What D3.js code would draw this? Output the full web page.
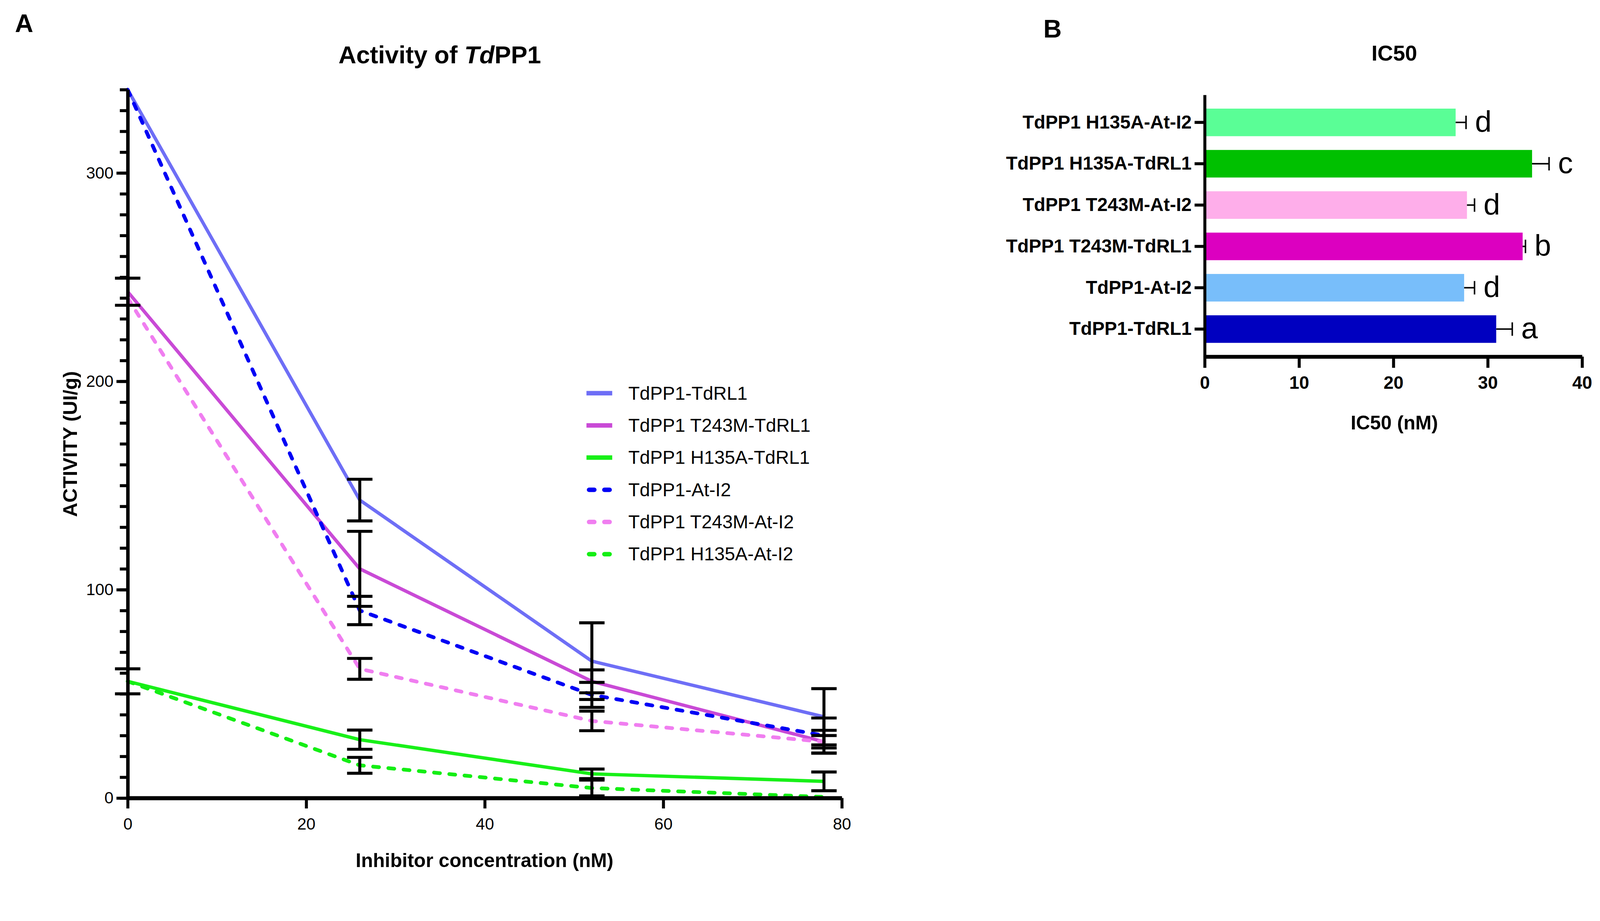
<!DOCTYPE html>
<html lang="en">
<head>
  <meta charset="UTF-8">
  <title>Activity of TdPP1 and IC50</title>
  <script src="https://d3js.org/d3.v7.min.js"></script>
  <style>
    html, body {
      margin: 0;
      padding: 0;
      width: 100%;
      height: 100%;
      overflow: hidden;
      background: #ffffff;
    }
    svg {
      display: block;
      width: 100vw;
      height: 100vh;
      background: #ffffff;
      font-family: "Liberation Sans", Arial, sans-serif;
    }
  </style>
</head>
<body>
  <svg id="chart" viewBox="0 0 4286 2357" preserveAspectRatio="xMidYMin meet"></svg>
  <script>
    // ---- Panel A data: activity (UI/g) vs inhibitor concentration (nM)
    const concentrations = [0, 26, 52, 78];

    const seriesNames = [
      "TdPP1-TdRL1",
      "TdPP1 T243M-TdRL1",
      "TdPP1 H135A-TdRL1",
      "TdPP1-At-I2",
      "TdPP1 T243M-At-I2",
      "TdPP1 H135A-At-I2"
    ];

    const wtTdRL1       = [340, 143, 65.7, 39];
    const wtTdRL1Err    = [0, 10, 18.4, 13.5];
    const t243mTdRL1    = [243, 110, 56, 27];
    const t243mTdRL1Err = [6.5, 18, 5.5, 3];
    const h135aTdRL1    = [56, 28, 11.6, 8];
    const h135aTdRL1Err = [6, 4.6, 2.3, 4.5];
    const wtAtI2        = [340, 90, 49.5, 30];
    const wtAtI2Err     = [0, 6.8, 6, 8.4];
    const t243mAtI2     = [240, 62, 37, 27];
    const t243mAtI2Err  = [0, 5, 4.7, 5.5];
    const h135aAtI2     = [56, 15.7, 4.8, 0.5];
    const h135aAtI2Err  = [0, 3.8, 3.8, 0];

    const activityMajorTicks = [0, 100, 200, 300];
    const activityMinorTicks = d3.range(0, 341, 10);
    const concTicks = [0, 20, 40, 60, 80];

    // ---- Panel B data: IC50 (nM)
    const ic50Labels = [
      "TdPP1 H135A-At-I2",
      "TdPP1 H135A-TdRL1",
      "TdPP1 T243M-At-I2",
      "TdPP1 T243M-TdRL1",
      "TdPP1-At-I2",
      "TdPP1-TdRL1"
    ];
    const ic50Values  = [26.6, 34.7, 27.8, 33.7, 27.5, 30.9];
    const ic50Errors  = [1.1, 1.8, 0.8, 0.3, 1.1, 1.7];
    const ic50Letters = ["d", "c", "d", "b", "d", "a"];
    const ic50Ticks   = [0, 10, 20, 30, 40];

    const svg = d3.select("#chart");

    // =========================== Panel A ===========================
    const xA = d3.scaleLinear().domain([0, 80]).range([342, 2255]);
    const yA = d3.scaleLinear().domain([0, 340]).range([2137, 240]);

    const series = [
      { name: seriesNames[0], values: wtTdRL1,    err: wtTdRL1Err,    color: "#6e6ef6", dashed: false },
      { name: seriesNames[1], values: t243mTdRL1, err: t243mTdRL1Err, color: "#c94ad6", dashed: false },
      { name: seriesNames[2], values: h135aTdRL1, err: h135aTdRL1Err, color: "#18f018", dashed: false },
      { name: seriesNames[3], values: wtAtI2,     err: wtAtI2Err,     color: "#0000f5", dashed: true },
      { name: seriesNames[4], values: t243mAtI2,  err: t243mAtI2Err,  color: "#f07ef0", dashed: true },
      { name: seriesNames[5], values: h135aAtI2,  err: h135aAtI2Err,  color: "#14ee14", dashed: true }
    ];

    svg.append("text")
       .attr("x", 40).attr("y", 86)
       .attr("font-size", 68).attr("font-weight", "bold")
       .text("A");

    const title = svg.append("text")
       .attr("x", 1178).attr("y", 170)
       .attr("text-anchor", "middle")
       .attr("font-size", 66).attr("font-weight", "bold");
    title.append("tspan").text("Activity of ");
    title.append("tspan").attr("font-style", "italic").text("Td");
    title.append("tspan").text("PP1");

    const gA = svg.append("g");

    // lines
    const lineA = d3.line()
                    .x((d, i) => xA(concentrations[i]))
                    .y(d => yA(d));

    series.forEach(s => {
      gA.append("path")
        .datum(s.values)
        .attr("fill", "none")
        .attr("stroke", s.color)
        .attr("stroke-width", s.dashed ? 10 : 9)
        .attr("stroke-linecap", s.dashed ? "round" : "butt")
        .attr("stroke-dasharray", s.dashed ? "16,25" : null)
        .attr("d", lineA);
    });

    // error bars
    series.forEach(s => {
      s.values.forEach((v, i) => {
        const e = s.err[i];
        if (!e) return;
        const cx = xA(concentrations[i]);
        const eb = gA.append("g").attr("stroke", "#000").attr("stroke-width", 8);
        eb.append("line").attr("x1", cx).attr("x2", cx).attr("y1", yA(v + e)).attr("y2", yA(v - e));
        eb.append("line").attr("x1", cx - 34).attr("x2", cx + 34).attr("y1", yA(v + e)).attr("y2", yA(v + e));
        eb.append("line").attr("x1", cx - 34).attr("x2", cx + 34).attr("y1", yA(v - e)).attr("y2", yA(v - e));
      });
    });

    // y axis: minor ticks, then major ticks with labels
    const yMinor = gA.append("g")
       .attr("transform", `translate(${xA(0)},0)`)
       .call(d3.axisLeft(yA).tickValues(activityMinorTicks).tickSize(21).tickSizeOuter(0).tickFormat(""));
    const yMajor = gA.append("g")
       .attr("transform", `translate(${xA(0)},0)`)
       .call(d3.axisLeft(yA).tickValues(activityMajorTicks).tickSize(30).tickPadding(8).tickSizeOuter(0));
    [yMinor, yMajor].forEach(ax => {
      ax.select(".domain").attr("stroke-width", 9);
      ax.selectAll(".tick line").attr("stroke-width", 8);
    });
    yMajor.selectAll(".tick text")
          .attr("font-size", 44).attr("font-family", "Liberation Sans, Arial, sans-serif").attr("fill", "#000");

    // x axis
    const xAxisA = gA.append("g")
       .attr("transform", `translate(0,${yA(0)})`)
       .call(d3.axisBottom(xA).tickValues(concTicks).tickSize(28).tickPadding(25).tickSizeOuter(0));
    xAxisA.select(".domain").attr("stroke-width", 11);
    xAxisA.selectAll(".tick line").attr("stroke-width", 8);
    xAxisA.selectAll(".tick text")
          .attr("font-size", 44).attr("font-family", "Liberation Sans, Arial, sans-serif").attr("fill", "#000");

    svg.append("text")
       .attr("transform", "translate(206,1189) rotate(-90)")
       .attr("text-anchor", "middle")
       .attr("font-size", 53).attr("font-weight", "bold")
       .text("ACTIVITY (UI/g)");

    svg.append("text")
       .attr("x", 1298).attr("y", 2322)
       .attr("text-anchor", "middle")
       .attr("font-size", 52).attr("font-weight", "bold")
       .text("Inhibitor concentration (nM)");

    // legend
    const legend = svg.append("g").attr("transform", "translate(1571,1053)");
    series.forEach((s, i) => {
      const item = legend.append("g").attr("transform", `translate(0,${i * 86.2})`);
      if (s.dashed) {
        item.append("line")
            .attr("x1", 7).attr("x2", 62).attr("y1", 0).attr("y2", 0)
            .attr("stroke", s.color).attr("stroke-width", 12)
            .attr("stroke-linecap", "round").attr("stroke-dasharray", "14,27");
      } else {
        item.append("line")
            .attr("x1", 0).attr("x2", 69).attr("y1", 0).attr("y2", 0)
            .attr("stroke", s.color).attr("stroke-width", 12);
      }
      item.append("text")
          .attr("x", 112).attr("y", 17)
          .attr("font-size", 50)
          .text(s.name);
    });

    // =========================== Panel B ===========================
    const xB = d3.scaleLinear().domain([0, 40]).range([3227, 4238]);
    const yB = d3.scaleBand().domain(ic50Labels).range([254, 955]).paddingInner(0.333).paddingOuter(0.333);
    const barColors = ["#5afe96", "#00c000", "#feaeea", "#dc00c0", "#78befa", "#0000c0"];

    svg.append("text")
       .attr("x", 2795).attr("y", 100)
       .attr("font-size", 68).attr("font-weight", "bold")
       .text("B");

    svg.append("text")
       .attr("x", 3735).attr("y", 162)
       .attr("text-anchor", "middle")
       .attr("font-size", 58).attr("font-weight", "bold")
       .text("IC50");

    const gB = svg.append("g");

    gB.selectAll("rect.bar")
      .data(ic50Labels)
      .join("rect")
      .attr("class", "bar")
      .attr("x", xB(0))
      .attr("y", d => yB(d))
      .attr("width", (d, i) => xB(ic50Values[i]) - xB(0))
      .attr("height", yB.bandwidth())
      .attr("fill", (d, i) => barColors[i]);

    ic50Labels.forEach((d, i) => {
      const cy = yB(d) + yB.bandwidth() / 2;
      const x0 = xB(ic50Values[i]);
      const x1 = xB(ic50Values[i] + ic50Errors[i]);
      gB.append("line").attr("x1", x0).attr("x2", x1).attr("y1", cy).attr("y2", cy)
        .attr("stroke", "#000").attr("stroke-width", 4);
      gB.append("line").attr("x1", x1).attr("x2", x1).attr("y1", cy - 18).attr("y2", cy + 18)
        .attr("stroke", "#000").attr("stroke-width", 4);
      gB.append("text")
        .attr("x", x1 + 24).attr("y", cy + 25)
        .attr("font-size", 80)
        .text(ic50Letters[i]);
    });

    const yAxisB = gB.append("g")
       .attr("transform", `translate(${xB(0)},0)`)
       .call(d3.axisLeft(yB).tickSize(27).tickPadding(8).tickSizeOuter(0));
    yAxisB.select(".domain").attr("stroke-width", 8);
    yAxisB.selectAll(".tick line").attr("stroke-width", 8);
    yAxisB.selectAll(".tick text")
          .attr("font-size", 50).attr("font-weight", "bold")
          .attr("font-family", "Liberation Sans, Arial, sans-serif").attr("fill", "#000");

    const xAxisB = gB.append("g")
       .attr("transform", `translate(0,${yB.range()[1]})`)
       .call(d3.axisBottom(xB).tickValues(ic50Ticks).tickSize(30).tickPadding(22).tickSizeOuter(0));
    xAxisB.select(".domain").attr("stroke-width", 10);
    xAxisB.selectAll(".tick line").attr("stroke-width", 8);
    xAxisB.selectAll(".tick text")
          .attr("font-size", 48).attr("font-weight", "bold")
          .attr("font-family", "Liberation Sans, Arial, sans-serif").attr("fill", "#000");

    svg.append("text")
       .attr("x", 3735).attr("y", 1150)
       .attr("text-anchor", "middle")
       .attr("font-size", 52).attr("font-weight", "bold")
       .text("IC50 (nM)");
  </script>
</body>
</html>
